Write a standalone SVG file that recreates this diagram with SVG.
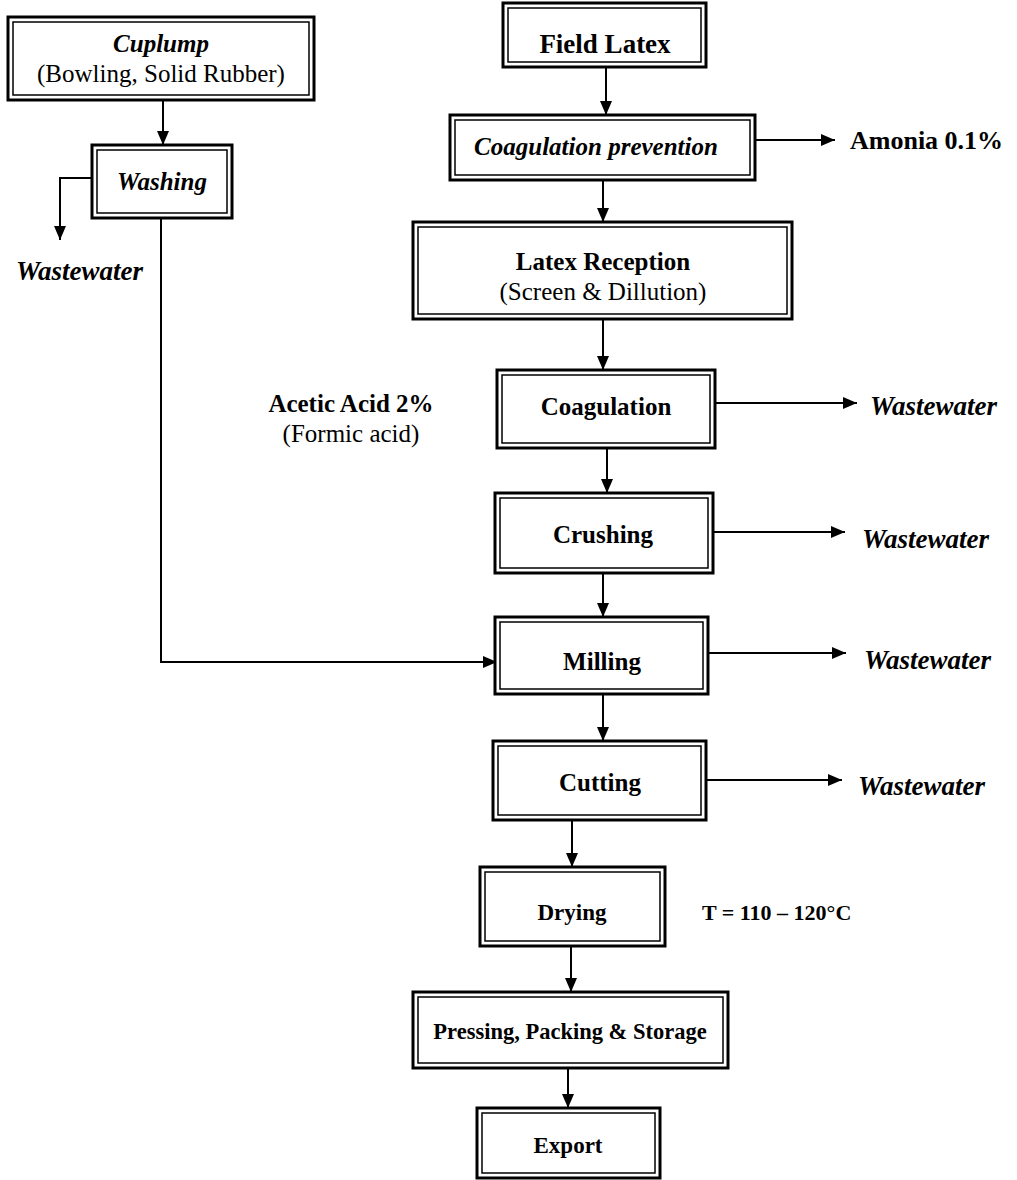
<svg xmlns="http://www.w3.org/2000/svg" width="1017" height="1180" viewBox="0 0 1017 1180">
<style>
.o{fill:#fff;stroke:#000;stroke-width:3}
.i{fill:none;stroke:#000;stroke-width:1.5}
.t{font-family:"Liberation Serif","Times New Roman",serif;font-size:25px;fill:#000}
.b{font-weight:bold}
.it{font-style:italic}
.c{text-anchor:middle}
.s{font-size:22px}
.w{font-size:27px}
.ln{fill:none;stroke:#000;stroke-width:2}
</style>
<defs>
<marker id="ah" markerUnits="userSpaceOnUse" markerWidth="14" markerHeight="12" refX="14" refY="6" orient="auto">
<path d="M0,0 L14,6 L0,12 z" fill="#000"/>
</marker>
</defs>
<rect width="1017" height="1180" fill="#fff"/>
<g id="connectors">
<path class="ln" d="M163,100 V145" marker-end="url(#ah)"/>
<path class="ln" d="M92,178 H60 V240" marker-end="url(#ah)"/>
<path class="ln" d="M161,218 V662 H497" marker-end="url(#ah)"/>
<path class="ln" d="M606,67 V115" marker-end="url(#ah)"/>
<path class="ln" d="M755,140 H835" marker-end="url(#ah)"/>
<path class="ln" d="M603,180 V222" marker-end="url(#ah)"/>
<path class="ln" d="M603,319 V370" marker-end="url(#ah)"/>
<path class="ln" d="M715,403 H857" marker-end="url(#ah)"/>
<path class="ln" d="M607,448 V493" marker-end="url(#ah)"/>
<path class="ln" d="M713,532 H845" marker-end="url(#ah)"/>
<path class="ln" d="M603,573 V617" marker-end="url(#ah)"/>
<path class="ln" d="M708,653 H846" marker-end="url(#ah)"/>
<path class="ln" d="M603,694 V741" marker-end="url(#ah)"/>
<path class="ln" d="M706,780 H842" marker-end="url(#ah)"/>
<path class="ln" d="M572,820 V867" marker-end="url(#ah)"/>
<path class="ln" d="M571,946 V992" marker-end="url(#ah)"/>
<path class="ln" d="M568,1068 V1108" marker-end="url(#ah)"/>
</g>
<g id="cuplump">
<rect class="o" x="8" y="17" width="306" height="83"/>
<rect class="i" x="13" y="22" width="296" height="73"/>
<text class="t b it c" x="161" y="52">Cuplump</text>
<text class="t c" x="161" y="82">(Bowling, Solid Rubber)</text>
</g>
<g id="washing">
<rect class="o" x="92" y="145" width="140" height="73"/>
<rect class="i" x="97" y="150" width="130" height="63"/>
<text class="t b it c" x="162" y="190">Washing</text>
</g>
<g id="wastewater-left">
<text class="t b it w" x="16" y="280">Wastewater</text>
</g>
<g id="field-latex">
<rect class="o" x="503" y="3" width="203" height="64"/>
<rect class="i" x="508" y="8" width="193" height="54"/>
<text class="t b c" x="605" y="53" style="font-size:27px">Field Latex</text>
</g>
<g id="coagulation-prevention">
<rect class="o" x="450" y="115" width="305" height="65"/>
<rect class="i" x="455" y="120" width="295" height="55"/>
<text class="t b it c" x="596" y="155">Coagulation prevention</text>
</g>
<g id="amonia">
<text class="t b" x="850" y="149" style="font-size:26px">Amonia 0.1%</text>
</g>
<g id="latex-reception">
<rect class="o" x="413" y="222" width="379" height="97"/>
<rect class="i" x="418" y="227" width="369" height="87"/>
<text class="t b c" x="603" y="270">Latex Reception</text>
<text class="t c" x="603" y="300">(Screen &amp; Dillution)</text>
</g>
<g id="acetic-acid">
<text class="t b c" x="351" y="412">Acetic Acid 2%</text>
<text class="t c" x="351" y="442">(Formic acid)</text>
</g>
<g id="coagulation">
<rect class="o" x="497" y="370" width="218" height="78"/>
<rect class="i" x="502" y="375" width="208" height="68"/>
<text class="t b c" x="606" y="415">Coagulation</text>
</g>
<g id="wastewater-coagulation">
<text class="t b it w" x="870" y="415">Wastewater</text>
</g>
<g id="crushing">
<rect class="o" x="495" y="493" width="218" height="80"/>
<rect class="i" x="500" y="498" width="208" height="70"/>
<text class="t b c" x="603" y="543">Crushing</text>
</g>
<g id="wastewater-crushing">
<text class="t b it w" x="862" y="548">Wastewater</text>
</g>
<g id="milling">
<rect class="o" x="495" y="617" width="213" height="77"/>
<rect class="i" x="500" y="622" width="203" height="67"/>
<text class="t b c" x="602" y="670">Milling</text>
</g>
<g id="wastewater-milling">
<text class="t b it w" x="864" y="669">Wastewater</text>
</g>
<g id="cutting">
<rect class="o" x="493" y="741" width="213" height="79"/>
<rect class="i" x="498" y="746" width="203" height="69"/>
<text class="t b c" x="600" y="791">Cutting</text>
</g>
<g id="wastewater-cutting">
<text class="t b it w" x="858" y="795">Wastewater</text>
</g>
<g id="drying">
<rect class="o" x="480" y="867" width="185" height="79"/>
<rect class="i" x="485" y="872" width="175" height="69"/>
<text class="t b c" x="572" y="920" style="font-size:23px">Drying</text>
</g>
<g id="temperature">
<text class="t b" x="702" y="920" style="font-size:22px">T = 110 – 120°C</text>
</g>
<g id="pressing">
<rect class="o" x="413" y="992" width="315" height="76"/>
<rect class="i" x="418" y="997" width="305" height="66"/>
<text class="t b c" x="570" y="1039" style="font-size:22.5px">Pressing, Packing &amp; Storage</text>
</g>
<g id="export">
<rect class="o" x="477" y="1108" width="183" height="70"/>
<rect class="i" x="482" y="1113" width="173" height="60"/>
<text class="t b c" x="568" y="1153" style="font-size:23px">Export</text>
</g>
</svg>
